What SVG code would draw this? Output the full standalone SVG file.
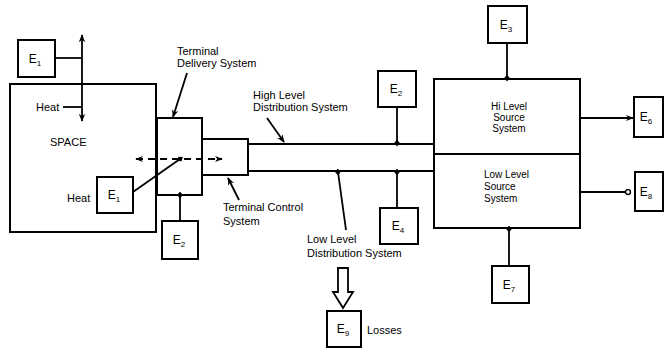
<svg xmlns="http://www.w3.org/2000/svg" width="666" height="350" viewBox="0 0 666 350">
<defs>
<style>
.b{fill:#fff;stroke:#000;stroke-width:2}
.l{fill:none;stroke:#000;stroke-width:1.8}
.t{font-family:"Liberation Sans",Arial,sans-serif;font-size:11px;fill:#000}
.s{font-family:"Liberation Sans",Arial,sans-serif;font-size:10px;fill:#000}
.e{font-family:"Liberation Sans",Arial,sans-serif;font-size:12px;fill:#000;text-anchor:middle}
.sub{font-size:8px}
</style>
<marker id="a" viewBox="0 0 10 10" refX="9" refY="5" markerWidth="8" markerHeight="8" markerUnits="userSpaceOnUse" orient="auto-start-reverse"><path d="M0,1 L10,5 L0,9 L3,5 Z" fill="#000"/></marker>
<marker id="d" viewBox="0 0 10 10" refX="5" refY="5" markerWidth="7" markerHeight="7" markerUnits="userSpaceOnUse" orient="auto"><path d="M0,5 L5,1 L10,5 L5,9 Z" fill="#000"/></marker>
<marker id="o" viewBox="0 0 10 10" refX="5" refY="5" markerWidth="7" markerHeight="7" markerUnits="userSpaceOnUse" orient="auto"><circle cx="5" cy="5" r="3.5" fill="#fff" stroke="#000" stroke-width="2"/></marker>
</defs>

<g id="space"><rect class="b" x="10" y="84" width="146" height="148"/><text class="t" x="50" y="146" font-size="12">SPACE</text></g>
<g id="terminal-delivery"><rect class="b" x="157" y="118" width="45" height="77"/></g>
<g id="terminal-control"><rect class="b" x="202" y="139" width="46" height="36"/></g>
<g id="high-dist"><path class="l" d="M248,144 H434"/></g>
<g id="low-dist"><path class="l" d="M248,171 H434"/></g>
<g id="hi-source"><rect class="b" x="434" y="79" width="146" height="75"/><text class="s" text-anchor="middle"><tspan x="509" y="110">Hi Level</tspan><tspan x="509" y="121">Source</tspan><tspan x="509" y="132">System</tspan></text></g>
<g id="low-source"><rect class="b" x="434" y="154" width="146" height="74"/><text class="s"><tspan x="484" y="178">Low Level</tspan><tspan x="484" y="190">Source</tspan><tspan x="484" y="202">System</tspan></text></g>

<g id="e1-top"><rect class="b" x="18" y="40" width="37" height="37"/><text class="e" x="35" y="63">E<tspan class="sub" dy="3">1</tspan></text></g>
<g id="e1-low"><rect class="b" x="97" y="177" width="36" height="36"/><text class="e" x="114" y="199">E<tspan class="sub" dy="3">1</tspan></text></g>
<g id="e2-low"><rect class="b" x="162" y="221" width="36" height="38"/><text class="e" x="179" y="244">E<tspan class="sub" dy="3">2</tspan></text></g>
<g id="e2-top"><rect class="b" x="378" y="71" width="38" height="36"/><text class="e" x="396" y="93">E<tspan class="sub" dy="3">2</tspan></text></g>
<g id="e4-low"><rect class="b" x="380" y="208" width="38" height="36"/><text class="e" x="398" y="230">E<tspan class="sub" dy="3">4</tspan></text></g>
<g id="e9"><rect class="b" x="327" y="311" width="34" height="36"/><text class="e" x="343" y="333">E<tspan class="sub" dy="3">9</tspan></text><text class="t" x="367" y="334">Losses</text></g>
<g id="e3"><rect class="b" x="488" y="6" width="39" height="37"/><text class="e" x="506" y="29">E<tspan class="sub" dy="3">3</tspan></text></g>
<g id="e6"><rect class="b" x="634" y="97" width="29" height="40"/><text class="e" x="646" y="121">E<tspan class="sub" dy="3">6</tspan></text></g>
<g id="e8"><rect class="b" x="635" y="172" width="28" height="39"/><text class="e" x="646" y="196">E<tspan class="sub" dy="3">8</tspan></text></g>
<g id="e7"><rect class="b" x="492" y="266" width="37" height="37"/><text class="e" x="509" y="289">E<tspan class="sub" dy="3">7</tspan></text></g>

<g id="labels">
<text class="t" x="36" y="111">Heat</text>
<text class="t" x="67" y="202">Heat</text>
<text class="t"><tspan x="177" y="55">Terminal</tspan><tspan x="177" y="67">Delivery System</tspan></text>
<text class="t"><tspan x="253" y="99">High Level</tspan><tspan x="253" y="111">Distribution System</tspan></text>
<text class="t"><tspan x="223" y="211">Terminal Control</tspan><tspan x="223" y="225">System</tspan></text>
<text class="t"><tspan x="307" y="243">Low Level</tspan><tspan x="307" y="257">Distribution System</tspan></text>
</g>

<g id="connectors">
<path class="l" d="M82,35 V121" marker-start="url(#a)" marker-end="url(#a)"/>
<path class="l" d="M55,58 H82"/>
<path class="l" d="M63,107 H82"/>
<path class="l" d="M136,159 H222" stroke-dasharray="7,5" marker-start="url(#a)" marker-end="url(#a)"/>
<path class="l" d="M133,192 L180,159" marker-end="url(#d)"/>
<path class="l" d="M180,221 V195" marker-end="url(#d)"/>
<path class="l" d="M187,73 L173,117" marker-end="url(#a)"/>
<path class="l" d="M239,200 L228,178" marker-end="url(#a)"/>
<path class="l" d="M267,118 L284,142" marker-end="url(#a)"/>
<path class="l" d="M397,107 V143" marker-end="url(#d)"/>
<path class="l" d="M346,230 L338,172" marker-end="url(#d)"/>
<path class="l" d="M397,208 V172" marker-end="url(#d)"/>
<path class="l" d="M507,43 V78" marker-end="url(#d)"/>
<path class="l" d="M580,118 H633" marker-end="url(#a)"/>
<path class="l" d="M581,192 H628" marker-end="url(#o)"/>
<path class="l" d="M509,266 V229" marker-end="url(#d)"/>
<path d="M338,268 H348 V292 H353 L343,308 L333,292 H338 Z" fill="#fff" stroke="#000" stroke-width="1.8" stroke-linejoin="miter"/>
</g>
</svg>
